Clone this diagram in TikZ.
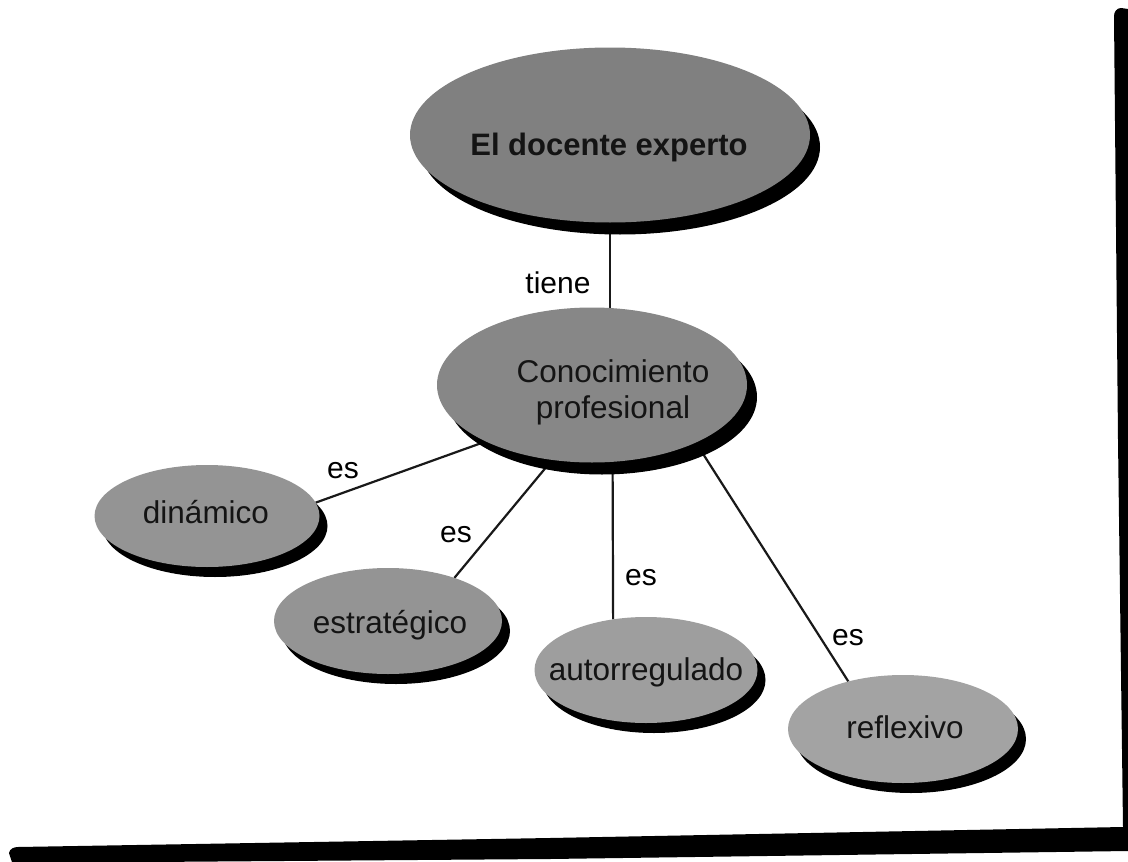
\documentclass[tikz,border=0pt]{standalone}
\usepackage{fontspec}
\setmainfont{Liberation Sans}
\usetikzlibrary{shapes.geometric,shadows}
\pgfdeclarelayer{paper}
\pgfdeclarelayer{background}
\pgfsetlayers{paper,background,main}
\begin{document}
\begin{tikzpicture}[x=1pt,y=-1pt,
  concept/.style={ellipse, inner sep=0pt, outer sep=0pt, fill=black!42,
    drop shadow={shadow xshift=8pt, shadow yshift=-10pt, fill=black, opacity=1}},
  bigconcept/.style={ellipse, inner sep=0pt, outer sep=0pt, fill=black!50,
    drop shadow={shadow xshift=10pt, shadow yshift=-12pt, fill=black, opacity=1}},
  conceptlabel/.style={font=\fontsize{31.5}{36}\selectfont, text=black!92, inner sep=0pt, align=center},
  linkword/.style={font=\fontsize{30}{36}\selectfont, inner sep=0pt, anchor=base},
  link/.style={draw=black!90, line width=2.2pt}]
\useasboundingbox (0,0) rectangle (1128,862);
\begin{pgfonlayer}{paper}
\fill[white] (0,0) rectangle (1128,862);
\end{pgfonlayer}

% page frame: heavy right and bottom rules
\fill[black] (1128,9) -- (1128,851) -- (550,859) -- (150,862) -- (12,862)
  -- (9,853) to[out=80,in=180] (18,847) -- (550,838) -- (1123,827)
  -- (1118,440) -- (1114,16) to[out=90,in=180] (1121,8) -- cycle;

% concepts
\node[bigconcept, minimum width=400pt, minimum height=175pt] (doc) at (610,135) {};
\node[bigconcept, fill=black!47, minimum width=310pt, minimum height=155pt] (con) at (592,385) {};
\node[concept, minimum width=225pt, minimum height=102pt] (din) at (207,516) {};
\node[concept, minimum width=228pt, minimum height=106pt] (est) at (388,621) {};
\node[concept, fill=black!38, minimum width=223pt, minimum height=106pt] (aut) at (646,670) {};
\node[concept, fill=black!36, minimum width=230pt, minimum height=108pt] (ref) at (903,729) {};

% concept texts
\node[conceptlabel, font=\fontsize{31}{36}\selectfont\bfseries, anchor=base] (docT) at (609,155) {El docente experto};
\node[conceptlabel] (conT) at (613,392) {Conocimiento\\profesional};
\node[conceptlabel, anchor=base] (dinT) at (206,523) {dinámico};
\node[conceptlabel, anchor=base] (estT) at (390,633) {estratégico};
\node[conceptlabel, anchor=base] (autT) at (646,680) {autorregulado};
\node[conceptlabel, anchor=base] (refT) at (905,738) {reflexivo};

% linking words
\node[linkword] (w0) at (558,293) {tiene};
\node[linkword] (w1) at (343,478) {es};
\node[linkword] (w2) at (456,542) {es};
\node[linkword] (w3) at (641,585) {es};
\node[linkword] (w4) at (848,645) {es};

% connectors, kept behind the ellipses
\begin{pgfonlayer}{background}
\draw[link] (doc.south) -- (doc.south |- con.north);
\draw[link] (con.208.5) -- (din.7);
\draw[link] (con.242.5) -- (est.33.5);
\draw[link] (con.285.3) -- (aut.123.1);
\draw[link] (con.331.5) -- (ref.139.2);
\end{pgfonlayer}
\end{tikzpicture}
\end{document}
